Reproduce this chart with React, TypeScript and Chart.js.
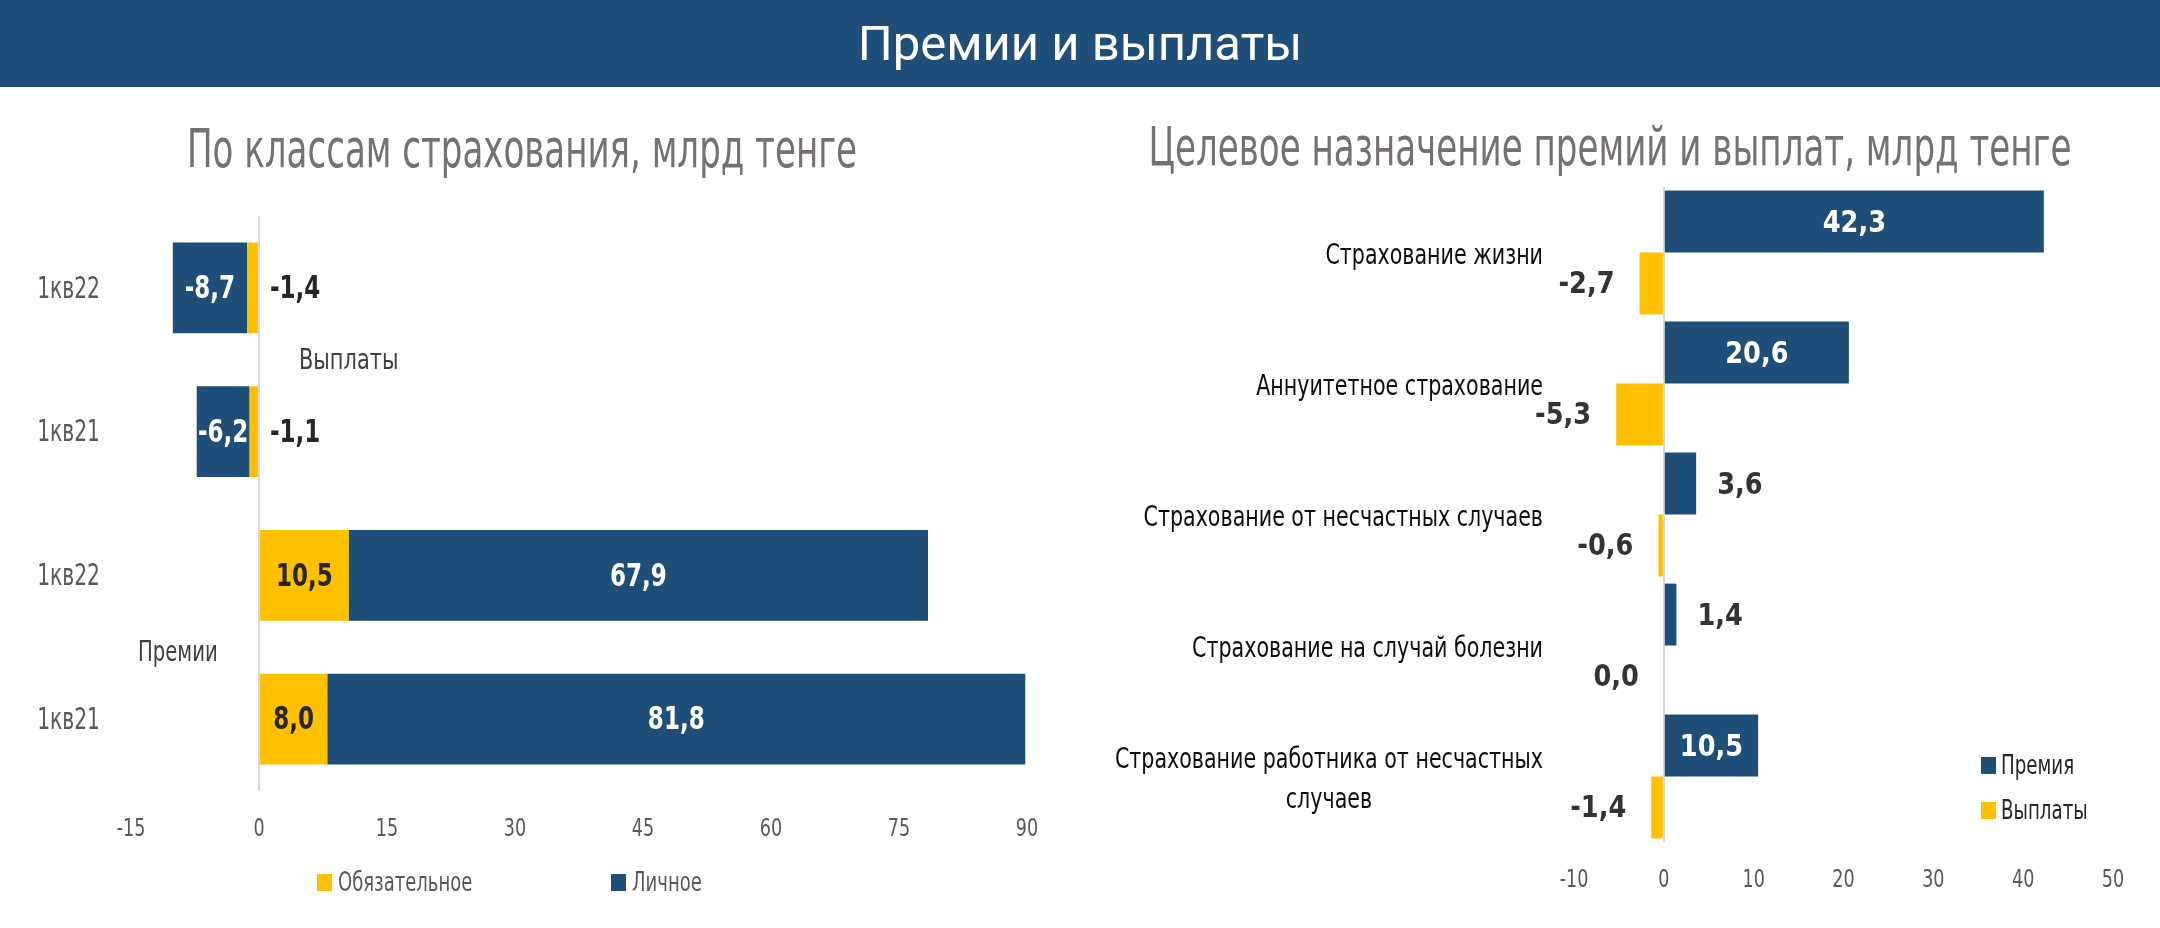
import React, { useEffect, useRef } from "react";
import { Chart, registerables } from "chart.js";

Chart.register(...registerables);

const BLUE = "#1F4E79";
const YELLOW = "#FFC000";
const NARROW = '"DejaVu Sans Condensed", "DejaVu Sans", sans-serif';

// left chart: by insurance class
const leftTitle = "По классам страхования, млрд тенге";
const classLabels = ["1кв22", "1кв21", "1кв22", "1кв21"];
const groupNames = ["Выплаты", "Премии"];
const mandatory = [-1.4, -1.1, 10.5, 8.0];
const personal = [-8.7, -6.2, 67.9, 81.8];
const classSeries = ["Обязательное", "Личное"];

// right chart: purpose of premiums and payouts
const rightTitle = "Целевое назначение премий и выплат, млрд тенге";
const purposeLabels = [
  ["Страхование жизни"],
  ["Аннуитетное страхование"],
  ["Страхование от несчастных случаев"],
  ["Страхование на случай болезни"],
  ["Страхование работника от несчастных", "случаев"],
];
const premiums = [42.3, 20.6, 3.6, 1.4, 10.5];
const payouts = [-2.7, -5.3, -0.6, 0.0, -1.4];
const purposeSeries = ["Премия", "Выплаты"];

const fmt = (v: number) => v.toFixed(1).replace(".", ",");

const zeroGrid = (c: any) => (c.tick && c.tick.value === 0 ? "#D9D9D9" : "rgba(0,0,0,0)");

// condensed text: squeeze horizontally to get the narrow look
function txt(ctx: any, s: string, x: number, y: number, font: string, color: string, align: string, sx = 0.78) {
  ctx.save();
  ctx.font = font;
  ctx.fillStyle = color;
  ctx.textAlign = align;
  ctx.textBaseline = "middle";
  ctx.translate(x, y);
  ctx.scale(sx, 1);
  ctx.fillText(s, 0, 0);
  ctx.restore();
}

function drawTicks(chart: any, ly: number) {
  const x = chart.scales.x;
  x.ticks.forEach((t: any) => {
    txt(chart.ctx, String(t.value), x.getPixelForValue(t.value), ly, `25px ${NARROW}`, "#595959", "center");
  });
}

const leftPlugin = {
  id: "leftDecor",
  afterDraw(chart: any) {
    const { ctx, scales } = chart;
    const x = scales.x;
    const y = scales.y;
    const zero = x.getPixelForValue(0);
    ctx.save();

    ctx.fillStyle = "#767171";
    ctx.font = `54px ${NARROW}`;
    ctx.textAlign = "center";
    ctx.textBaseline = "alphabetic";
    ctx.fillText(leftTitle, 522, 79, 670);
    ctx.restore();

    classLabels.forEach((l, i) => txt(ctx, l, 100, y.getPixelForValue(i) + 2, `30px ${NARROW}`, "#595959", "right", 0.75));

    txt(ctx, groupNames[0], zero + 40, (y.getPixelForValue(0) + y.getPixelForValue(1)) / 2 + 2, `28px ${NARROW}`, "#404040", "left", 0.83);
    txt(ctx, groupNames[1], 138, (y.getPixelForValue(2) + y.getPixelForValue(3)) / 2 + 6, `28px ${NARROW}`, "#404040", "left", 0.78);

    const bold = `bold 32px ${NARROW}`;
    chart.data.datasets.forEach((ds: any, di: number) => {
      const meta = chart.getDatasetMeta(di);
      meta.data.forEach((bar: any, i: number) => {
        const v = ds.data[i];
        const cy = bar.y + 2;
        if (di === 1) {
          txt(ctx, fmt(v), (bar.x + bar.base) / 2, cy, bold, "#FFFFFF", "center", 0.8);
        } else if (v >= 0) {
          txt(ctx, fmt(v), (bar.x + bar.base) / 2, cy, bold, "#262626", "center", 0.8);
        } else {
          txt(ctx, fmt(v), zero + 11, cy, bold, "#262626", "left", 0.8);
        }
      });
    });

    drawTicks(chart, 741);

    const ly = 795;
    const items = [
      { label: classSeries[0], color: YELLOW, x: 317 },
      { label: classSeries[1], color: BLUE, x: 611 },
    ];
    items.forEach((it) => {
      ctx.fillStyle = it.color;
      ctx.fillRect(it.x, ly - 9, 15, 17);
      txt(ctx, it.label, it.x + 21, ly + 1, `26px ${NARROW}`, "#595959", "left", 0.77);
    });
  },
};

const rightPlugin = {
  id: "rightDecor",
  afterDraw(chart: any) {
    const { ctx, scales } = chart;
    const x = scales.x;
    const y = scales.y;
    const zero = x.getPixelForValue(0);

    ctx.save();
    ctx.fillStyle = "#767171";
    ctx.font = `54px ${NARROW}`;
    ctx.textAlign = "center";
    ctx.textBaseline = "alphabetic";
    ctx.fillText(rightTitle, 530, 77, 923);
    ctx.restore();

    const catFont = `29px ${NARROW}`;
    const csx = 0.79;
    purposeLabels.forEach((lines, i) => {
      const cy = y.getPixelForValue(i) + 4;
      if (lines.length === 1) {
        txt(ctx, lines[0], 463, cy, catFont, "#0D0D0D", "right", csx);
      } else {
        ctx.save();
        ctx.font = catFont;
        const w = Math.max(...lines.map((l) => ctx.measureText(l).width)) * csx;
        ctx.restore();
        const lh = 40;
        lines.forEach((l, k) => {
          txt(ctx, l, 463 - w / 2, cy + (k - (lines.length - 1) / 2) * lh, catFont, "#0D0D0D", "center", csx);
        });
      }
    });

    const bold = `bold 31px ${NARROW}`;
    chart.data.datasets.forEach((ds: any, di: number) => {
      const meta = chart.getDatasetMeta(di);
      meta.data.forEach((bar: any, i: number) => {
        const v = ds.data[i];
        const cy = bar.y + 2;
        if (di === 0) {
          if (v >= 10) {
            txt(ctx, fmt(v), (bar.x + bar.base) / 2, cy, bold, "#FFFFFF", "center", 0.92);
          } else {
            txt(ctx, fmt(v), bar.x + 21, cy, bold, "#333333", "left", 0.92);
          }
        } else {
          txt(ctx, fmt(v), Math.min(bar.x, zero) - 25, cy, bold, "#333333", "right", 0.92);
        }
      });
    });

    drawTicks(chart, 792);

    const items = [
      { label: purposeSeries[0], color: BLUE, y: 678 },
      { label: purposeSeries[1], color: YELLOW, y: 723 },
    ];
    items.forEach((it) => {
      ctx.fillStyle = it.color;
      ctx.fillRect(901, it.y - 9, 15, 17);
      txt(ctx, it.label, 921, it.y + 1, `26px ${NARROW}`, "#262626", "left", 0.78);
    });
  },
};

function ClassChart() {
  const ref = useRef<HTMLCanvasElement>(null);
  useEffect(() => {
    if (!ref.current) return;
    const chart = new Chart(ref.current, {
      type: "bar",
      data: {
        labels: classLabels,
        datasets: [
          { label: classSeries[0], data: mandatory, backgroundColor: YELLOW, stack: "s" },
          { label: classSeries[1], data: personal, backgroundColor: BLUE, stack: "s" },
        ],
      },
      options: {
        indexAxis: "y",
        animation: false,
        responsive: true,
        maintainAspectRatio: false,
        devicePixelRatio: 1,
        layout: { padding: { top: 128, left: 131, right: 53, bottom: 137 } },
        datasets: { bar: { categoryPercentage: 0.63, barPercentage: 1 } },
        plugins: { legend: { display: false }, tooltip: { enabled: false } },
        scales: {
          x: {
            stacked: true,
            min: -15,
            max: 90,
            ticks: { stepSize: 15, display: false },
            grid: { color: zeroGrid, lineWidth: 2, drawTicks: false },
            border: { display: false },
          },
          y: { stacked: true, display: false },
        },
      },
      plugins: [leftPlugin],
    });
    return () => chart.destroy();
  }, []);
  return <canvas ref={ref} />;
}

function PurposeChart() {
  const ref = useRef<HTMLCanvasElement>(null);
  useEffect(() => {
    if (!ref.current) return;
    const chart = new Chart(ref.current, {
      type: "bar",
      data: {
        labels: purposeLabels.map((l) => l.join(" ")),
        datasets: [
          { label: purposeSeries[0], data: premiums, backgroundColor: BLUE },
          { label: purposeSeries[1], data: payouts, backgroundColor: YELLOW },
        ],
      },
      options: {
        indexAxis: "y",
        animation: false,
        responsive: true,
        maintainAspectRatio: false,
        devicePixelRatio: 1,
        layout: { padding: { top: 99, left: 494, right: 47, bottom: 86 } },
        datasets: { bar: { categoryPercentage: 0.945, barPercentage: 1 } },
        plugins: { legend: { display: false }, tooltip: { enabled: false } },
        scales: {
          x: {
            min: -10,
            max: 50,
            ticks: { stepSize: 10, display: false },
            grid: { color: zeroGrid, lineWidth: 2, drawTicks: false },
            border: { display: false },
          },
          y: { display: false },
        },
      },
      plugins: [rightPlugin],
    });
    return () => chart.destroy();
  }, []);
  return <canvas ref={ref} />;
}

export default function App() {
  const box: React.CSSProperties = { position: "absolute", top: 88, width: 1080, height: 840 };
  return (
    <div
      style={{
        position: "fixed",
        left: 0,
        top: 0,
        width: 2160,
        height: 928,
        background: "#FFFFFF",
        overflow: "hidden",
      }}
    >
      <div
        style={{
          position: "absolute",
          left: 0,
          top: 0,
          width: 2160,
          height: 87,
          background: BLUE,
          color: "#FFFFFF",
          fontFamily: "Roboto, sans-serif",
          fontSize: 49,
          lineHeight: "87px",
          textAlign: "center",
        }}
      >
        Премии и выплаты
      </div>
      <div style={{ ...box, left: 0 }}>
        <ClassChart />
      </div>
      <div style={{ ...box, left: 1080 }}>
        <PurposeChart />
      </div>
    </div>
  );
}
